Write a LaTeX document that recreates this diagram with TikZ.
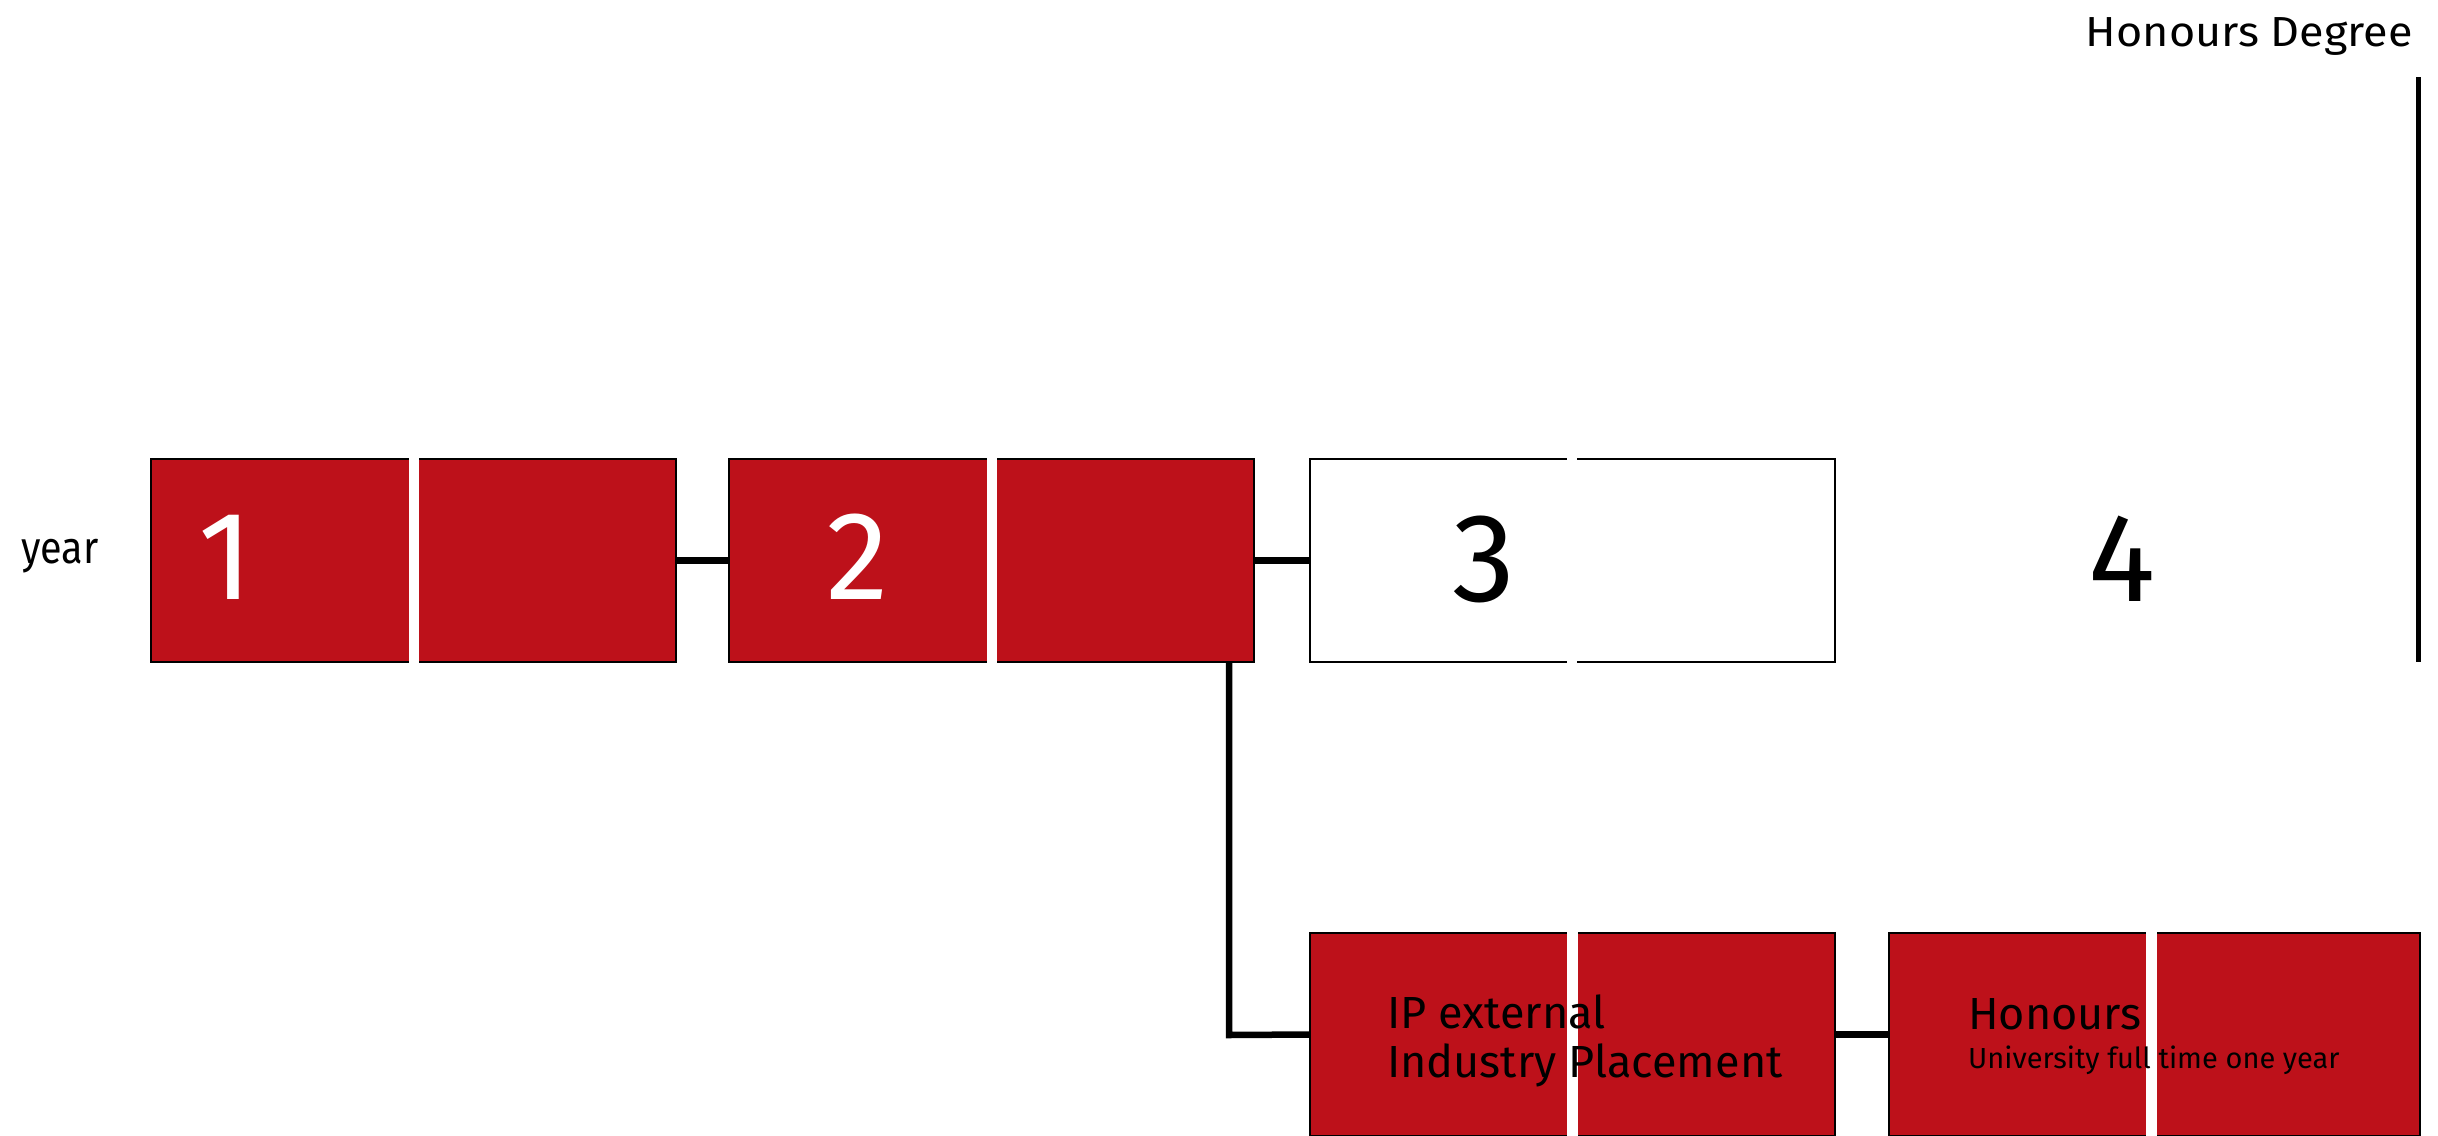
\documentclass[tikz,border=0pt]{standalone}
\usepackage{fontspec}
\setmainfont{Fira Sans}
\newfontfamily\widefont[FakeStretch=1.07]{Fira Sans}
\newfontfamily\narrowfont[FakeStretch=0.88]{Fira Sans}
\definecolor{ured}{RGB}{189,17,26}
\begin{document}
\begin{tikzpicture}[x=1pt,y=-1pt,
  redbox/.style={draw=black,line width=2pt,fill=ured,minimum width=525pt,minimum height=203pt,inner sep=0pt,outer sep=0pt},
  whitebox/.style={redbox,fill=white},
  conn/.style={draw=black,line width=6.5pt},
  bignum/.style={font=\fontsize{126}{126}\selectfont,anchor=base,inner sep=0pt},
  lbl/.style={anchor=base west,inner sep=0pt}]
\useasboundingbox (0,0) rectangle (2438,1135);
% upper boxes
\node[redbox] (y1) at (413.5,560.5) {};
\node[redbox] (y2) at (991.5,560.5) {};
\node[whitebox] (y3) at (1572,560.5) {};
% lower boxes
\node[redbox] (ip) at (1572.5,1034.5) {};
\node[redbox,minimum width=531pt] (hon) at (2154.5,1034.5) {};
% white gaps
\fill[white] (409,455) rectangle (419,666);
\fill[white] (987,455) rectangle (997,666);
\fill[white] (1567,455) rectangle (1577,666);
\fill[white] (1567,929) rectangle (1578,1140);
\fill[white] (2146,929) rectangle (2157,1140);
% connectors
\draw[conn] (y1.east) -- (y2.west);
\draw[conn] (y2.east) -- (y3.west);
\draw[conn] (y2.south -| 1229,0) -- (1229,1035) -- (ip.west);
\draw[conn] (ip.east) -- (hon.west);
% degree bar
\coordinate (bartop) at (2418,77);
\coordinate (barbot) at (2418,662);
\draw[line width=5pt] (bartop) -- (barbot);
% texts
\node[bignum,text=white] (n1) at (226,599) {1};
\node[bignum,text=white] (n2) at (858,599) {2};
\node[bignum] (n3) at (1484,601) {3};
\node[bignum] (n4) at (2122,601) {4};
\node[lbl,font=\narrowfont\fontsize{45}{45}\selectfont] (year) at (21,563) {year};
\node[anchor=base east,inner sep=0pt,font=\widefont\fontsize{42}{42}\selectfont] (deg) at (2413,46) {Honours Degree};
\node[lbl,font=\fontsize{45}{45}\selectfont] (ip1) at (1387,1028) {IP external};
\node[lbl,font=\fontsize{45}{45}\selectfont] (ip2) at (1387,1077) {Industry Placement};
\node[lbl,font=\fontsize{45}{45}\selectfont] (h1) at (1968,1029) {Honours};
\node[lbl,font=\fontsize{29}{29}\selectfont] (h2) at (1968,1068) {University full time one year};
\end{tikzpicture}
\end{document}
